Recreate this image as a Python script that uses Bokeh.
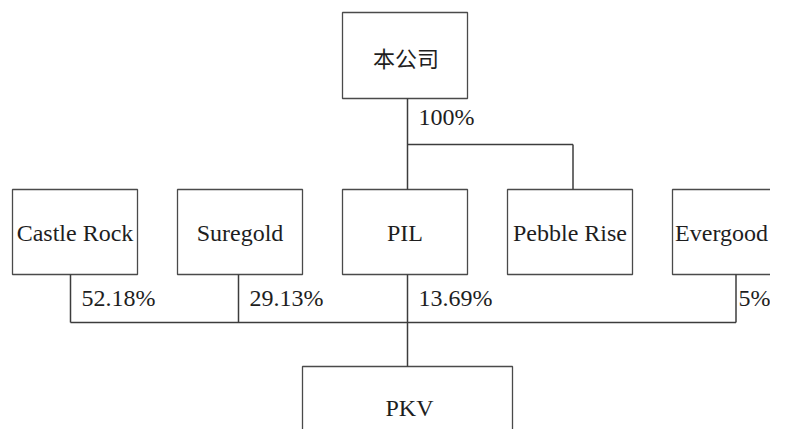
from bokeh.plotting import figure
from bokeh.models import Range1d
from bokeh.core.properties import value
from bokeh.embed import file_html
from bokeh.resources import INLINE

# ---- data ----
parent = "本公司"
parent_stake = "100%"
subsidiaries = ["Castle Rock", "Suregold", "PIL", "Pebble Rise", "Evergood"]
owned_by_parent = ["PIL", "Pebble Rise"]
stakes_in_target = ["52.18%", "29.13%", "13.69%", "", "5%"]
target = "PKV"

# ---- layout (pixel-like coordinates, y grows downward) ----
W, H = 770, 429
slot_left0, slot_step, box_w, box_h = 12, 165, 125, 85
row_top = 189
conn_dx = [-4.5, -1.5, 2.5, 3.0, 1.0]
parent_box = (342, 467, 12, 98)
target_box = (302, 512, 366, 470)
branch_y, bus_y = 144, 322
line_col, box_col, text_col = "#3c3c3c", "#4a4a4a", "#1e1e1e"

p = figure(width=W, height=H, output_backend="svg", toolbar_location=None,
           x_range=Range1d(0, W), y_range=Range1d(H, 0), min_border=0)
p.axis.visible = False
p.grid.visible = False
p.outline_line_color = None
p.background_fill_color = "white"
p.border_fill_color = "white"

lefts = [slot_left0 + i * slot_step for i in range(len(subsidiaries))]
centers = [l + box_w / 2 for l in lefts]
conn = [c + d for c, d in zip(centers, conn_dx)]
idx = {n: i for i, n in enumerate(subsidiaries)}
# keep labels inside the visible frame (last box runs past the right edge)
label_x = [min(c, W - 49) for c in centers]

# boxes
p.quad(left=lefts, right=[l + box_w for l in lefts],
       top=[row_top] * len(lefts), bottom=[row_top + box_h] * len(lefts),
       fill_color="white", line_color=box_col, line_width=1.3)
p.quad(left=[parent_box[0], target_box[0]], right=[parent_box[1], target_box[1]],
       top=[parent_box[2], target_box[2]], bottom=[parent_box[3], target_box[3]],
       fill_color="white", line_color=box_col, line_width=1.3)

# connectors from parent
owned_x = [conn[idx[n]] for n in owned_by_parent]
px = owned_x[0]
x0s, y0s, x1s, y1s = [px], [parent_box[3]], [px], [row_top]
x0s += [min(owned_x)]; y0s += [branch_y]; x1s += [max(owned_x)]; y1s += [branch_y]
for x in owned_x[1:]:
    x0s += [x]; y0s += [branch_y]; x1s += [x]; y1s += [row_top]

# connectors to target
owner_x = [conn[i] for i, s in enumerate(stakes_in_target) if s]
for x in owner_x:
    x0s += [x]; y0s += [row_top + box_h]; x1s += [x]; y1s += [bus_y]
x0s += [min(owner_x)]; y0s += [bus_y]; x1s += [max(owner_x)]; y1s += [bus_y]
tx = conn[idx["PIL"]]
x0s += [tx]; y0s += [bus_y]; x1s += [tx]; y1s += [target_box[2]]
p.segment(x0=x0s, y0=y0s, x1=x1s, y1=y1s, line_color=line_col, line_width=1.5)

# texts
serif = value("Liberation Serif")
p.text(x=label_x, y=[row_top + box_h / 2 + 1] * len(centers), text=subsidiaries,
       text_font=serif, text_font_size="24px", text_align="center",
       text_baseline="middle", text_color=text_col)
p.text(x=[(target_box[0] + target_box[1]) / 2 + 2], y=[407], text=[target],
       text_font=serif, text_font_size="24px", text_align="center",
       text_baseline="middle", text_color=text_col)
p.text(x=[(parent_box[0] + parent_box[1]) / 2 + 1], y=[56], text=[parent],
       text_font=value("Noto Sans CJK SC"), text_font_size="22px", text_align="center",
       text_baseline="middle", text_color=text_col)
p.text(x=[px + 11], y=[116], text=[parent_stake],
       text_font=serif, text_font_size="24px", text_align="left",
       text_baseline="middle", text_color=text_col)
lab_x = [conn[i] + 11 for i, s in enumerate(stakes_in_target) if s]
lab_t = [s for s in stakes_in_target if s]
lab_x = [min(x, W - 32) for x in lab_x]
p.text(x=lab_x, y=[297] * len(lab_x), text=lab_t,
       text_font=serif, text_font_size="24px", text_align="left",
       text_baseline="middle", text_color=text_col)

open("out.html", "w").write(file_html(p, INLINE))
